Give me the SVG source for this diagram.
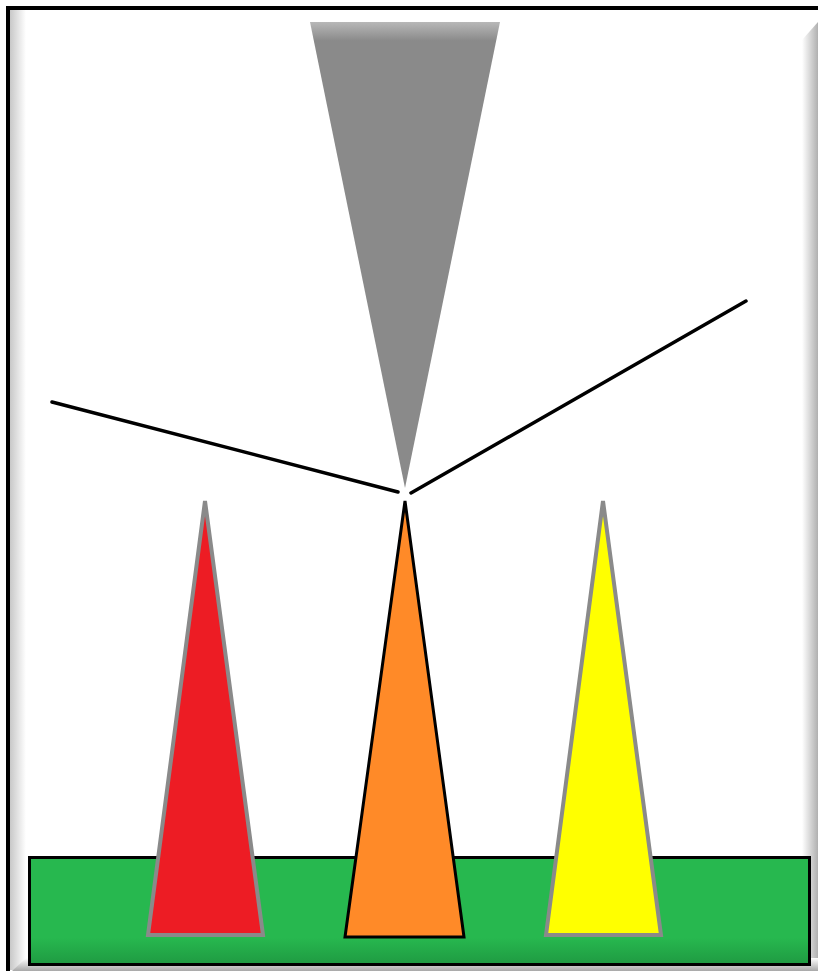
<svg xmlns="http://www.w3.org/2000/svg" width="818" height="971" viewBox="0 0 818 971">
  <defs>
    <linearGradient id="leftBevel" x1="0" y1="0" x2="1" y2="0">
      <stop offset="0" stop-color="#c8c8c8"/>
      <stop offset="1" stop-color="#ffffff"/>
    </linearGradient>
    <linearGradient id="rightBevel" x1="0" y1="0" x2="1" y2="0">
      <stop offset="0" stop-color="#ffffff"/>
      <stop offset="1" stop-color="#b0b0b0"/>
    </linearGradient>
    <linearGradient id="bottomBevel" x1="0" y1="0" x2="0" y2="1">
      <stop offset="0" stop-color="#ffffff"/>
      <stop offset="1" stop-color="#a8a8a8"/>
    </linearGradient>
    <linearGradient id="greenShade" x1="0" y1="0" x2="0" y2="1">
      <stop offset="0" stop-color="#27b84f"/>
      <stop offset="0.75" stop-color="#27b84f"/>
      <stop offset="1" stop-color="#1f9a42"/>
    </linearGradient>
    <linearGradient id="grayTop" x1="0" y1="0" x2="0" y2="1">
      <stop offset="0" stop-color="#b8b8b8"/>
      <stop offset="0.04" stop-color="#8a8a8a"/>
      <stop offset="1" stop-color="#8a8a8a"/>
    </linearGradient>
  </defs>
  <style>
    .grayEdge { stroke: #8a8a8a; stroke-width: 4; stroke-linejoin: miter; }
    .blackEdge { stroke: #000000; stroke-width: 3; stroke-linejoin: miter; }
    .line { stroke: #000000; stroke-width: 3.5; fill: none; stroke-linecap: round; }
  </style>
  <rect width="818" height="971" fill="#ffffff"/>
  <g id="frame">
    <rect x="10" y="10" width="16" height="960" fill="url(#leftBevel)"/>
    <polygon points="802,40 818,22 818,971 802,971" fill="url(#rightBevel)"/>
    <polygon points="26,958 818,958 818,971 12,971" fill="url(#bottomBevel)"/>
    <path d="M8,971 L8,8 L822,8" fill="none" stroke="#000" stroke-width="4"/>
  </g>
  <g id="ground">
    <rect x="29.5" y="857.5" width="780" height="107" fill="url(#greenShade)" stroke="#000" stroke-width="3"/>
  </g>
  <g id="probe">
    <polygon points="310,22 500,22 405,488" fill="url(#grayTop)"/>
  </g>
  <g id="connectors">
    <line class="line" x1="52" y1="402" x2="398" y2="492"/>
    <line class="line" x1="411" y1="493" x2="746" y2="301"/>
  </g>
  <g id="red-cone">
    <polygon class="grayEdge" points="205,501 263,935 148,935" fill="#ed1c24"/>
  </g>
  <g id="orange-cone">
    <polygon class="blackEdge" points="405,501 464,937 345,937" fill="#ff8a28"/>
  </g>
  <g id="yellow-cone">
    <polygon class="grayEdge" points="603,501 661,935 546,935" fill="#ffff00"/>
  </g>
</svg>
